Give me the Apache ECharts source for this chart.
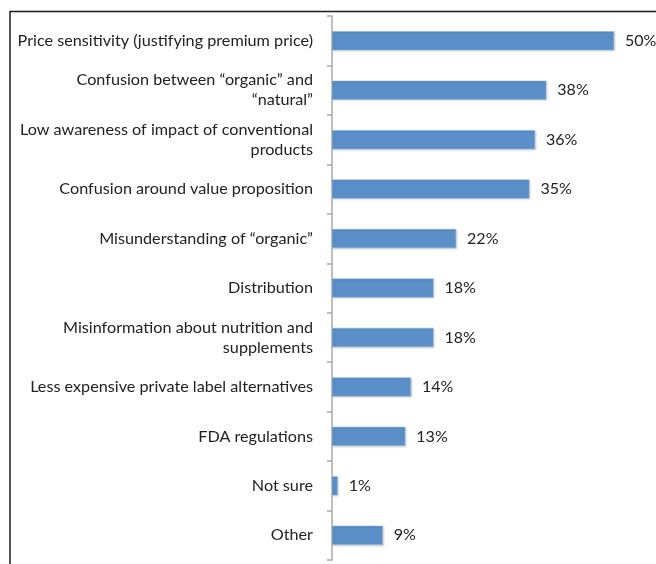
<!DOCTYPE html>
<html>
<head>
<meta charset="utf-8">
<script src="https://cdn.jsdelivr.net/npm/echarts@6/dist/echarts.min.js"></script>
<style>
  html, body { margin: 0; padding: 0; background: #fff; }
  #chart { width: 656px; height: 564px; }
</style>
</head>
<body>
<div id="chart"></div>
<script>
var categories = [
  'Price sensitivity (justifying premium price)',
  'Confusion between \u201corganic\u201d and\n\u201cnatural\u201d',
  'Low awareness of impact of conventional\nproducts',
  'Confusion around value proposition',
  'Misunderstanding of \u201corganic\u201d',
  'Distribution',
  'Misinformation about nutrition and\nsupplements',
  'Less expensive private label alternatives',
  'FDA regulations',
  'Not sure',
  'Other'
]
var values = [50, 38, 36, 35, 22, 18, 18, 14, 13, 1, 9]

var chart = echarts.init(document.getElementById('chart'))
var option = {
  animation: false,
  grid: {
    left: 332,
    width: 282,
    top: 16,
    bottom: 4
  },
  xAxis: {
    type: 'value',
    min: 0,
    max: 50,
    show: false
  },
  yAxis: {
    type: 'category',
    inverse: true,
    data: categories,
    axisLine: {
      show: true,
      lineStyle: { color: '#a8a8a8', width: 1.5 }
    },
    axisTick: {
      show: true,
      length: 5,
      lineStyle: { color: '#a8a8a8', width: 1.5 }
    },
    axisLabel: {
      margin: 19,
      color: '#222',
      fontFamily: 'Lato',
      fontSize: 16.2,
      lineHeight: 20,
      align: 'right'
    }
  },
  series: [{
    type: 'bar',
    data: values,
    barWidth: 19,
    itemStyle: {
      color: '#5a8fc8',
      borderColor: '#8fb4dc',
      borderWidth: 0.5,
      shadowColor: 'rgba(0,0,0,0.18)',
      shadowBlur: 2,
      shadowOffsetX: 1,
      shadowOffsetY: 1
    },
    label: {
      show: true,
      position: 'right',
      distance: 11,
      formatter: '{c}%',
      color: '#222',
      fontFamily: 'Lato',
      fontSize: 16
    }
  }],
  graphic: [
    {
      type: 'line',
      shape: { x1: 10, y1: 11.5, x2: 656, y2: 11.5 },
      style: { stroke: '#1a1a1a', lineWidth: 1.5 }
    },
    {
      type: 'line',
      shape: { x1: 10, y1: 11, x2: 10, y2: 564 },
      style: { stroke: '#1a1a1a', lineWidth: 1.5 }
    }
  ]
}
chart.setOption(option)
</script>
</body>
</html>
